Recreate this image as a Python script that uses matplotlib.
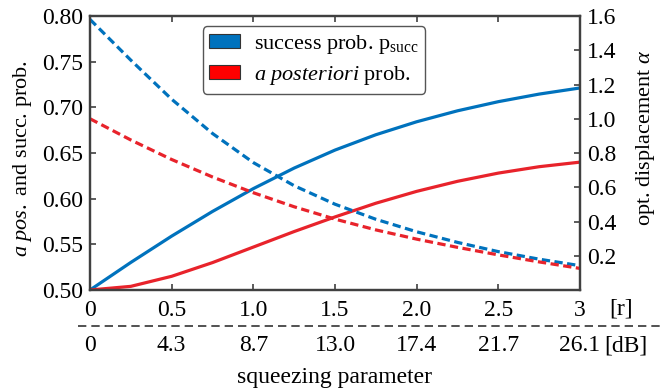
import matplotlib
matplotlib.use("Agg")
import matplotlib.pyplot as plt
from matplotlib.patches import Patch
from matplotlib.lines import Line2D

plt.rcParams['font.family'] = ['Liberation Serif', 'DejaVu Serif']
plt.rcParams['mathtext.fontset'] = 'custom'
plt.rcParams['mathtext.rm'] = 'Liberation Serif'
plt.rcParams['mathtext.it'] = 'Liberation Serif:italic'

# squeezing parameter r
r = [0, 0.25, 0.5, 0.75, 1.0, 1.25, 1.5, 1.75, 2.0, 2.25, 2.5, 2.75, 3.0]
# probabilities (left axis)
p_succ = [0.500, 0.5302, 0.559, 0.586, 0.611, 0.6335, 0.6532, 0.670, 0.6842,
          0.6962, 0.7062, 0.7145, 0.7212]
p_post = [0.500, 0.504, 0.515, 0.530, 0.547, 0.564, 0.580, 0.595, 0.608,
          0.619, 0.628, 0.635, 0.640]
# optimal displacement alpha (right axis)
alpha_succ = [1.58, 1.342, 1.114, 0.914, 0.744, 0.609, 0.501, 0.413, 0.340,
              0.278, 0.224, 0.180, 0.142]
alpha_post = [1.00, 0.876, 0.762, 0.660, 0.568, 0.486, 0.414, 0.351, 0.297,
              0.249, 0.205, 0.164, 0.126]

r_ticks = [0, 0.5, 1.0, 1.5, 2.0, 2.5, 3.0]
r_labels = ['0', '0.5', '1.0', '1.5', '2.0', '2.5', '3']
db_labels = ['0', '4.3', '8.7', '13.0', '17.4', '21.7', '26.1']

blue = '#0072BD'
red = '#E8232B'
spine_c = '#404040'

fig = plt.figure(figsize=(6.64, 3.90), dpi=100)
ax = fig.add_axes([90/664, 1-290/390, 490/664, 274/390])
ax2 = ax.twinx()

ax.plot(r, p_succ, color=blue, lw=2.3)
ax.plot(r, p_post, color=red, lw=2.3)
ax2.plot(r, alpha_succ, color=blue, lw=2.3, dashes=(2.6, 1.4))
ax2.plot(r, alpha_post, color=red, lw=2.3, dashes=(2.6, 1.4))

ax.set_xlim(0, 3)
ax.set_ylim(0.5, 0.8)
ax2.set_ylim(0, 1.6)

ax.set_xticks(r_ticks)
ax.set_xticklabels(r_labels)
ax.set_yticks([0.50, 0.55, 0.60, 0.65, 0.70, 0.75, 0.80])
ax.set_yticklabels(['0.50', '0.55', '0.60', '0.65', '0.70', '0.75', '0.80'])
ax2.set_yticks([0.2, 0.4, 0.6, 0.8, 1.0, 1.2, 1.4, 1.6])
ax2.set_yticklabels(['0.2', '0.4', '0.6', '0.8', '1.0', '1.2', '1.4', '1.6'])

for a in (ax, ax2):
    for s in a.spines.values():
        s.set_color(spine_c)
        s.set_linewidth(1.6)
ax.tick_params(axis='x', direction='in', top=True, length=4, width=1.2,
               color=spine_c, labelsize=17, pad=7)
ax.tick_params(axis='y', direction='in', length=4, width=1.2,
               color=spine_c, labelsize=17, pad=5)
ax2.tick_params(axis='y', direction='in', length=4, width=1.2,
                color=spine_c, labelsize=17, pad=5)

ax.set_ylabel(r'$\it{a\ pos.}$ and succ. prob.', fontsize=16)
ax.yaxis.set_label_coords(-0.115, 0.48)
ax2.set_ylabel('opt. displacement $\\alpha$', fontsize=16)
ax2.yaxis.set_label_coords(1.11, 0.555)

# r unit, dB row and the dashed separator
xtr = ax.get_xaxis_transform()
ax.text(3.25, -0.068, '[r]', transform=xtr, ha='center', va='center', fontsize=17)
for xv, lab in zip(r_ticks, db_labels):
    ax.text(xv, -0.203, lab, transform=xtr, ha='center', va='center', fontsize=17)
ax.text(3.28, -0.203, '[dB]', transform=xtr, ha='center', va='center', fontsize=17)
fig.add_artist(Line2D([78/664, 660/664], [1-326/390, 1-326/390], color='#333333',
                      lw=1.2, dashes=(5, 3)))
fig.text(335/664, 1-377/390, 'squeezing parameter', ha='center', va='center', fontsize=17)

handles = [Patch(facecolor=blue, edgecolor='#333333', lw=0.8),
           Patch(facecolor='#FF0000', edgecolor='#333333', lw=0.8)]
labels = ['success prob. p$_{\\rm succ}$', r'$\it{a\ posteriori}$ prob.']
leg = ax2.legend(handles, labels, loc='upper left', bbox_to_anchor=(0.23, 0.962),
                 borderaxespad=0, fontsize=16, handlelength=1.4, handleheight=0.6,
                 handletextpad=0.6, borderpad=0.3, labelspacing=0.35, fancybox=True,
                 framealpha=1, edgecolor='#555555')
leg.get_frame().set_linewidth(1.0)

fig.savefig('out.png', dpi=100)
